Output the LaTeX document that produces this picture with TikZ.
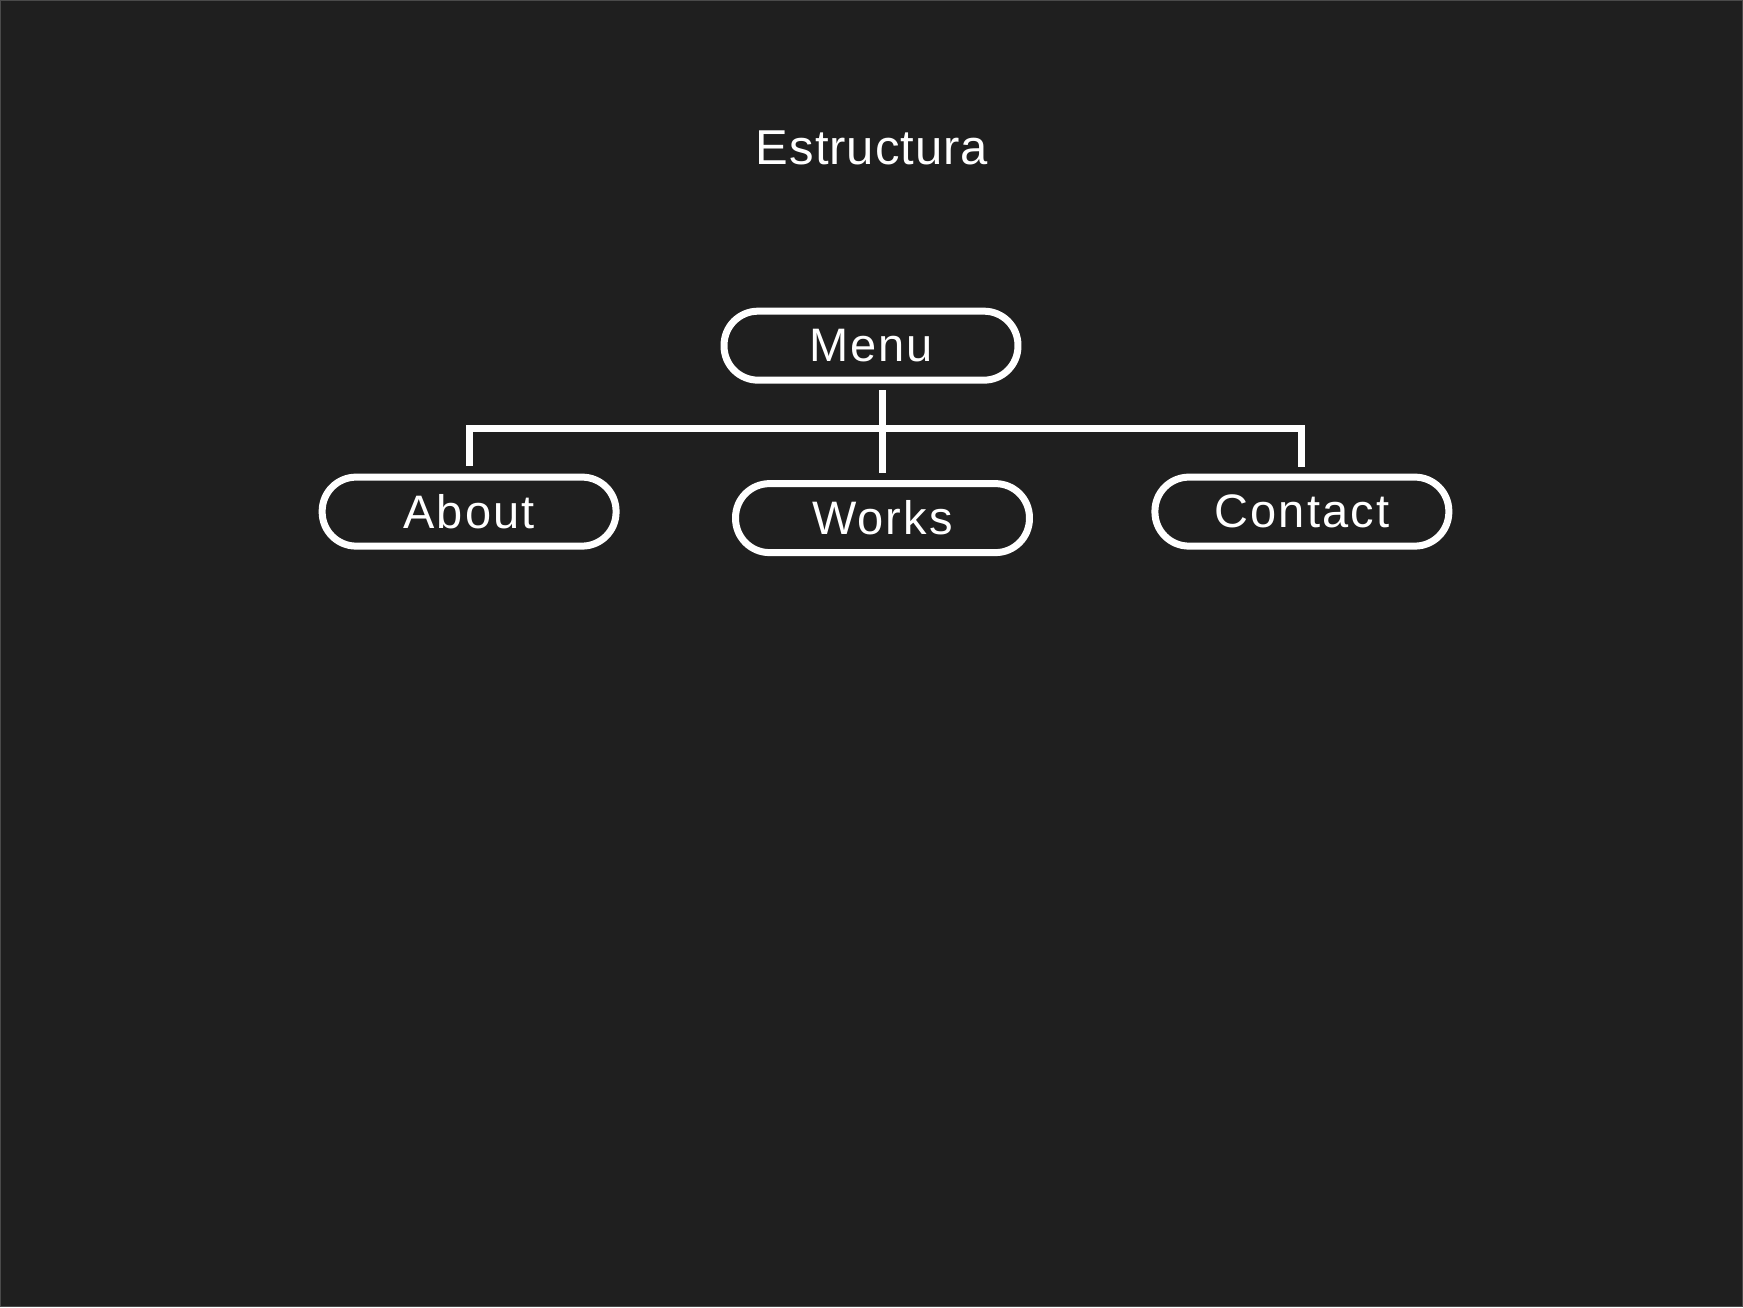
\documentclass[tikz,border=0pt]{standalone}
\usepackage{fontspec}
\setmainfont{Liberation Sans}[LetterSpace=4.5]
\newfontfamily\titlefont{Liberation Sans}[LetterSpace=2]
\definecolor{bg}{HTML}{1F1F1F}
\definecolor{edge}{HTML}{4A4A4A}
\tikzset{
  pill/.style={draw=white, line width=3.5pt, rounded corners=17pt, minimum width=147pt, minimum height=34.5pt, inner sep=0pt, text=white, font=\fontsize{23.5}{26}\selectfont},
  link/.style={draw=white, line width=3.5pt}
}
\begin{document}
\begin{tikzpicture}[x=0.5pt,y=-0.5pt]
\fill[bg] (0,0) rectangle (1743,1307);
\draw[edge, line width=0.5pt] (0.25,0.25) rectangle (1742.75,1306.75);
\useasboundingbox (0,0) rectangle (1743,1307);
\node[text=white, font=\titlefont\fontsize{24.5}{28}\selectfont] (title) at (872,148) {Estructura};
\node[pill] (menu) at (871,345.5) {Menu};
\node[pill] (about) at (469,511.5) {About};
\node[pill] (works) at (882.5,518) {Works};
\node[pill] (contact) at (1302,511.5) {Contact};
\coordinate (stemtop) at (882,390);
\coordinate (stembot) at (882,473);
\coordinate (bar) at (882,428);
\coordinate (aboutend) at (469,466);
\coordinate (contactend) at (1302,467);
\draw[link] (stemtop) -- (stembot);
\draw[link] (aboutend) -- (aboutend |- bar) -- (contactend |- bar) -- (contactend);
\end{tikzpicture}
\end{document}
